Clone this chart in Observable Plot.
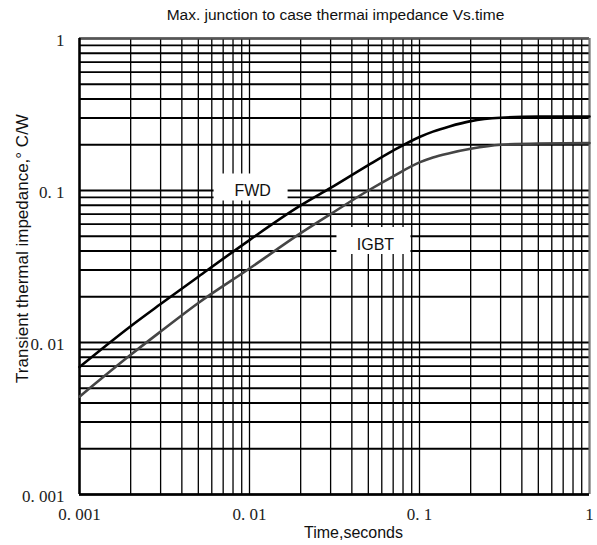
<!DOCTYPE html>
<html>
<head>
<meta charset="utf-8">
<script src="https://cdn.jsdelivr.net/npm/d3@7"></script>
<script src="https://cdn.jsdelivr.net/npm/@observablehq/plot@0.6"></script>
<style>
  html, body { margin: 0; padding: 0; background: #fff; }
  #chart svg { display: block; }
</style>
</head>
<body>
<div id="chart"></div>
<script>
// Pulse duration, seconds
const time = [0.001, 0.002, 0.003, 0.005, 0.01, 0.02, 0.03, 0.05, 0.07, 0.1, 0.12, 0.15, 0.2, 0.3, 0.5, 1];
// Max. junction-to-case transient thermal impedance, °C/W
const fwd  = [0.0069, 0.0128, 0.0179, 0.0271, 0.0472, 0.0797, 0.104, 0.147, 0.183, 0.225, 0.244, 0.264, 0.286, 0.301, 0.306, 0.307];
const igbt = [0.0044, 0.0083, 0.0118, 0.0182, 0.0307, 0.0524, 0.0700, 0.100, 0.124, 0.153, 0.165, 0.176, 0.188, 0.200, 0.204, 0.205];

// Axis ticks and log grid
const xTicks = [0.001, 0.01, 0.1, 1];
const yTicks = [0.001, 0.01, 0.1, 1];
const xGrid = [0.001, 0.002, 0.003, 0.004, 0.005, 0.006, 0.007, 0.008, 0.009,
               0.01, 0.02, 0.03, 0.04, 0.05, 0.06, 0.07, 0.08, 0.09,
               0.1, 0.2, 0.3, 0.4, 0.5, 0.6, 0.7, 0.8, 0.9, 1];
const yGrid = xGrid;

// Curve labels
const labelNames = ["FWD", "IGBT"];
const labelTime = [0.01015, 0.0536];
const labelZ = [0.1055, 0.0469];

const fwdRows = time.map((t, i) => ({t, z: fwd[i]}));
const igbtRows = time.map((t, i) => ({t, z: igbt[i]}));
const labelRows = labelNames.map((name, i) => ({name, t: labelTime[i], z: labelZ[i]}));

const fmt = d => d === 1 ? "1" : String(d).replace(".", ". ");

// White rectangle behind each curve label
const boxSymbol = {draw(ctx) { ctx.rect(-37, -13.5, 74, 27); }};

const sans = "'Liberation Sans', Arial, sans-serif";
const serif = "'Liberation Serif', 'Times New Roman', serif";

const chart = Plot.plot({
  width: 597,
  height: 545,
  marginLeft: 79,
  marginRight: 8,
  marginTop: 38,
  marginBottom: 51,
  style: {fontFamily: sans, background: "#fff"},
  x: {type: "log", domain: [0.001, 1], axis: null},
  y: {type: "log", domain: [0.001, 1], axis: null},
  marks: [
    Plot.ruleY(yGrid, {stroke: "#000", strokeWidth: 1.8}),
    Plot.ruleX(xGrid, {stroke: "#000", strokeWidth: 1.3}),
    Plot.ruleY([1], {stroke: "#555", strokeWidth: 2}),
    Plot.ruleX([1], {stroke: "#777", strokeWidth: 2}),
    Plot.ruleX([0.001], {stroke: "#000", strokeWidth: 2.5}),
    Plot.ruleY([0.001], {stroke: "#000", strokeWidth: 2.5}),
    Plot.line(fwdRows, {x: "t", y: "z", stroke: "#000", strokeWidth: 2.6, curve: "monotone-x"}),
    Plot.line(igbtRows, {x: "t", y: "z", stroke: "#454545", strokeWidth: 2.6, curve: "monotone-x"}),
    Plot.dot(labelRows, {x: "t", y: "z", symbol: boxSymbol, fill: "#fff", stroke: "none", r: 10}),
    Plot.text(labelRows, {x: "t", y: "z", text: "name", dx: 2, dy: 4, fontSize: 16, fill: "#111"}),
    // tick labels
    Plot.text(xTicks, {x: d => d, frameAnchor: "bottom", dy: 25, text: fmt, fontFamily: serif, fontSize: 17, fill: "#222"}),
    Plot.text(yTicks, {y: d => d, frameAnchor: "left", dx: -15, dy: 2, textAnchor: "end", text: fmt, fontFamily: serif, fontSize: 17, fill: "#222"}),
    // axis titles and chart title
    Plot.text(["Time,seconds"], {frameAnchor: "bottom", textAnchor: "middle", dx: 19, dy: 43, fontSize: 16, fill: "#111"}),
    Plot.text(["Transient thermal impedance,° C/W"], {frameAnchor: "left", textAnchor: "middle", lineAnchor: "middle", dx: -57, dy: -18, rotate: -90, fontSize: 17, fill: "#111"}),
    Plot.text(["Max. junction to case thermai impedance Vs.time"], {frameAnchor: "top", textAnchor: "middle", dx: 1, dy: -30, fontSize: 15.5, fill: "#111"})
  ]
});

document.getElementById("chart").appendChild(chart);
</script>
</body>
</html>
